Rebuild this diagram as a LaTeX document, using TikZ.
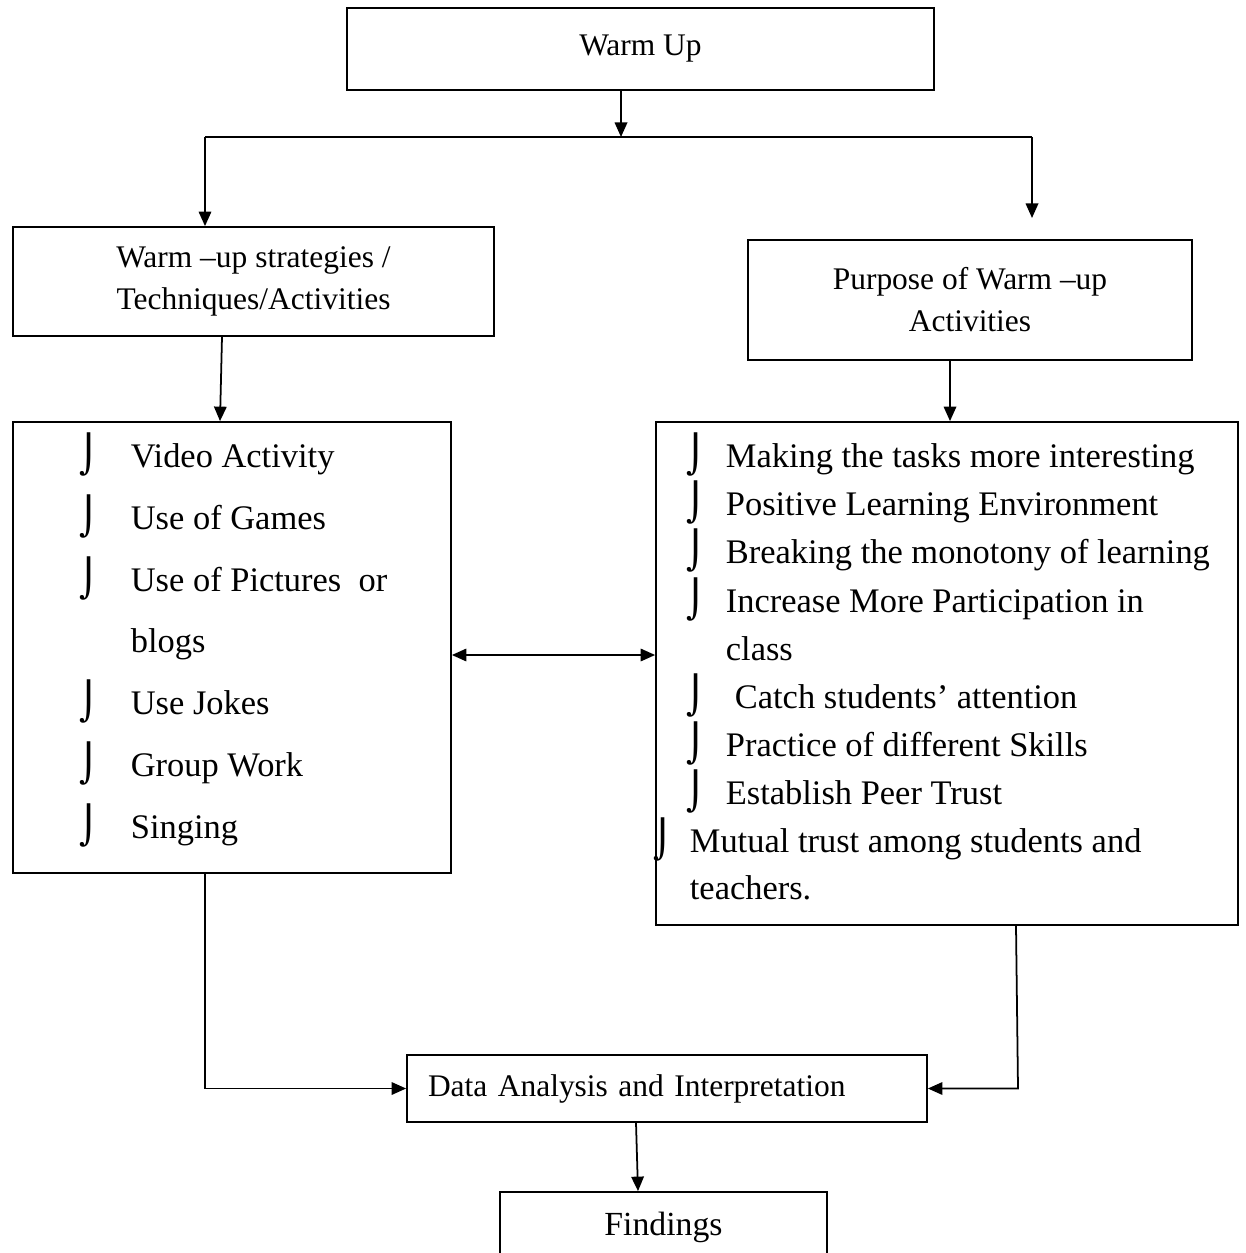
\documentclass[tikz,border=0pt]{standalone}
\usepackage{fontspec}
\setmainfont{Liberation Serif}
\newfontfamily\bulfont{DejaVu Sans}
\usetikzlibrary{arrows.meta,positioning}
\newcommand{\hfont}{\fontsize{17.9}{23.9}\selectfont}
\newcommand{\lfont}{\fontsize{19.6}{24}\selectfont}
\newcommand{\hk}[1][0.64cm]{\llap{\raisebox{-0.5pt}{\bulfont\fontsize{21}{21}\selectfont ⌡}\hspace{#1}}}

\begin{document}
\begin{tikzpicture}[
    box/.style={rectangle,draw,line width=1pt,inner sep=0pt,align=center,font=\hfont},
    item/.style={inner sep=0pt,anchor=base west,font=\lfont},
    >={Triangle[length=0.29cm,width=0.25cm]}, line width=1pt
  ]
  \useasboundingbox (0,0) rectangle (24.92,-25.06);
  % top
  \node[box,minimum width=11.74cm,minimum height=1.64cm] (wu) at (12.81,-0.98) {Warm Up};
  \coordinate (jn) at (12.42,-2.74);
  \coordinate (jl) at (4.10,-2.74);
  \coordinate (jr) at (20.64,-2.74);
  \coordinate (rtip) at (20.64,-4.36);

  \node[box,minimum width=9.62cm,minimum height=2.18cm] (lh) at (5.07,-5.63) {Warm --up strategies /\\Techniques/Activities};
  \node[box,minimum width=8.88cm,minimum height=2.40cm] (rh) at (19.40,-6.00) {Purpose of Warm --up\\Activities};

  % list boxes
  \node[box,minimum width=8.76cm,minimum height=9.02cm] (ll) at (4.64,-12.95) {};
  \node[box,minimum width=11.64cm,minimum height=10.06cm] (rl) at (18.94,-13.47) {};

  \foreach \x/\y/\t [count=\i] in {
      2.60/9.34/\hk Video Activity,
      2.60/10.58/\hk Use of Games,
      2.60/11.82/\hk Use of Pictures~ or,
      2.60/13.04/blogs,
      2.60/14.28/\hk Use Jokes,
      2.60/15.52/\hk Group Work,
      2.60/16.76/\hk Singing}
    \node[item] (l\i) at (\x,-\y) {\t};

  \foreach \x/\y/\t [count=\i] in {
      14.50/9.34/\hk[0.40cm]Making the tasks more interesting,
      14.50/10.30/\hk[0.40cm]Positive Learning Environment,
      14.50/11.26/\hk[0.40cm]Breaking the monotony of learning,
      14.50/12.24/\hk[0.40cm]Increase More Participation in,
      14.50/13.20/class,
      14.68/14.16/\hk[0.58cm]Catch students’ attention,
      14.50/15.12/\hk[0.40cm]Practice of different Skills,
      14.50/16.08/\hk[0.40cm]Establish Peer Trust,
      13.78/17.04/\hk[0.34cm]Mutual trust among students and,
      13.78/17.98/teachers.}
    \node[item] (r\i) at (\x,-\y) {\t};

  % bottom
  \node[box,minimum width=10.4cm,minimum height=1.34cm,text width=9.56cm,inner xsep=0.42cm,align=left] (da) at (13.34,-21.77) {Data Analysis and Interpretation};
  \node[box,minimum width=6.54cm,minimum height=1.40cm,font=\fontsize{19.2}{23}\selectfont] (fd) at (13.27,-24.54) {Findings};
  \coordinate (rc) at (20.36,0);

  % connectors
  \draw[->] (wu.south -| jn) -- (jn);
  \draw (jl) -- (jr);
  \draw[->] (jl) -- (jl |- lh.north);
  \draw[->] (jr) -- (rtip);
  \draw[->] ([xshift=-0.63cm]lh.south) -- ([xshift=-0.24cm]ll.north);
  \draw[->] ([xshift=-0.40cm]rh.south) -- ([xshift=-0.40cm]rh.south |- rl.north);
  \draw[<->] ([yshift=-0.15cm]ll.east) -- ([yshift=-0.15cm]ll.east -| rl.west);
  \draw[->] ([xshift=-0.54cm]ll.south) |- (da.west);
  \draw[->] ([xshift=1.38cm]rl.south) -- (da.east -| rc) -- (da.east);
  \draw[->] ([xshift=-0.62cm]da.south) -- ([xshift=-0.51cm]fd.north);
\end{tikzpicture}
\end{document}
